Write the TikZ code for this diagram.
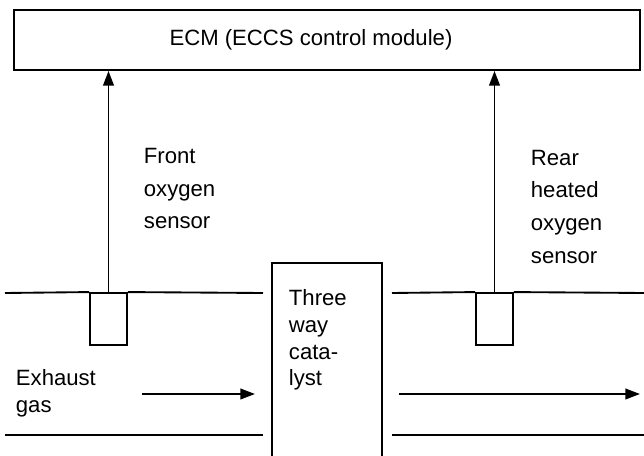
\documentclass[tikz,border=0pt]{standalone}
\usepackage{fontspec}
\setmainfont{Liberation Sans}
\usetikzlibrary{arrows.meta}

\begin{document}
\begin{tikzpicture}[x=0.75pt, y=-0.75pt, >={Triangle[length=11pt,width=8pt]}, line width=1.4pt,
  every node/.style={font=\fontsize{16.6pt}{20pt}\selectfont},
  sensorbox/.style={draw, inner sep=0pt, minimum width=27.75pt, minimum height=39pt},
  tag/.style={align=left, anchor=west, inner sep=0pt}]
\useasboundingbox (0,0) rectangle (644,456);
\node[draw, minimum width=469.5pt, minimum height=45pt, inner sep=0pt] (ecm) at (327,40) {\hspace*{-24pt}ECM (ECCS control module)};
\node[sensorbox] (fsens) at (108.5,319) {};
\node[sensorbox] (rsens) at (494.5,319) {};
% pipe walls
\draw (5,293) -- (fsens.north west) (fsens.north east) -- (263,293);
\draw (392,293) -- (rsens.north west) (rsens.north east) -- (644,293);
\draw (5,435) -- (263,435);
\draw (392,435) -- (644,435);
\draw (272,470) -- (272,263) -- (382,263) -- (382,470);
% signals to the ECM
\draw[->] (fsens.north) -- (fsens.north |- ecm.south);
\draw[->] (rsens.north) -- (rsens.north |- ecm.south);
% gas flow
\coordinate (gasin) at (142,394);
\coordinate (gasmid) at (255,394);
\coordinate (gasout0) at (399,394);
\coordinate (gasout) at (640,394);
\draw[->] (gasin) -- (gasmid);
\draw[->] (gasout0) -- (gasout);
\node[tag, font=\fontsize{16.6pt}{24.5pt}\selectfont] (flabel) at (143,188.5) {Front\\oxygen\\sensor};
\node[tag, font=\fontsize{16.6pt}{24.5pt}\selectfont] (rlabel) at (530,206.5) {Rear\\heated\\oxygen\\sensor};
\node[tag] (cat) at (288,340) {Three\\way\\cata-\\lyst};
\node[tag] (gas) at (15,393.5) {Exhaust\\gas};
\end{tikzpicture}
\end{document}
